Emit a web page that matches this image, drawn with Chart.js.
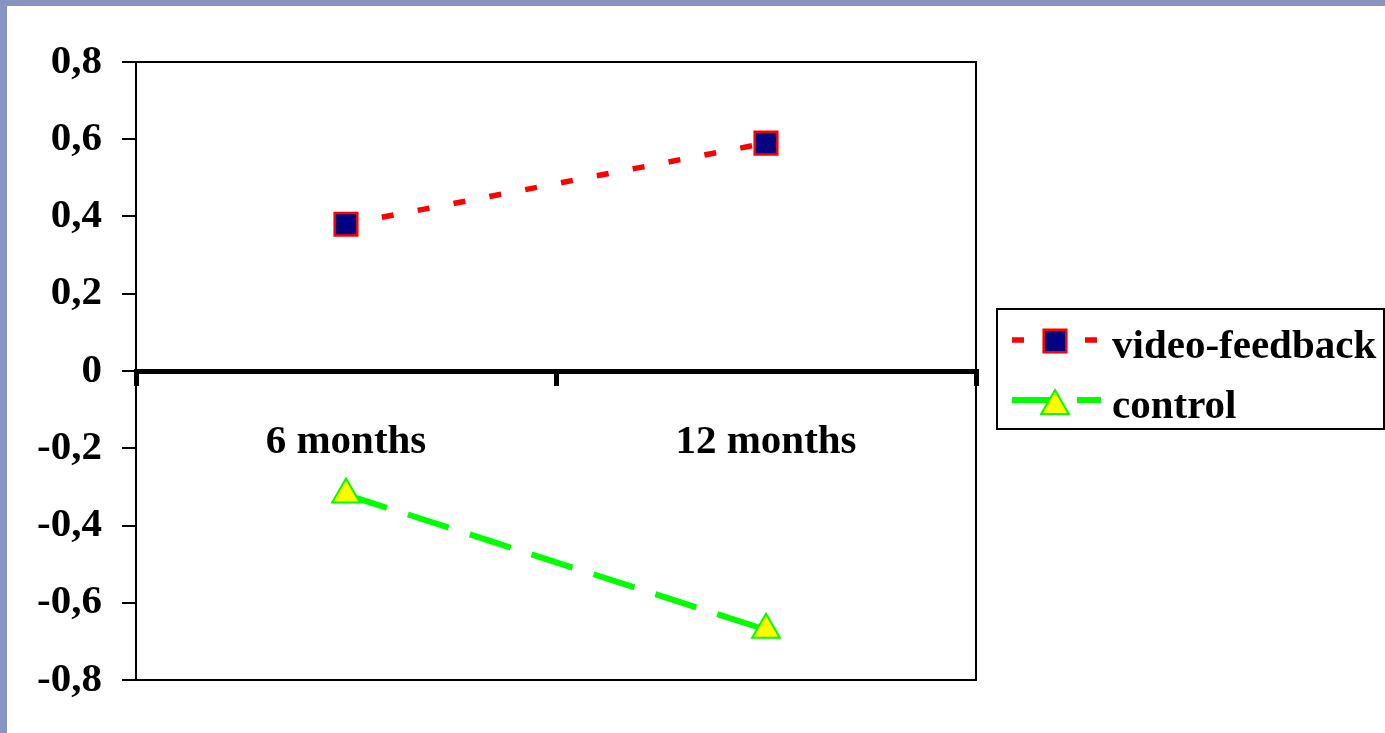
<!DOCTYPE html>
<html>
<head>
<meta charset="utf-8">
<script src="https://cdn.jsdelivr.net/npm/chart.js@4/dist/chart.umd.min.js"></script>
<style>
  html, body { margin: 0; padding: 0; }
  body { width: 1385px; height: 733px; background: #8793c1; position: relative; overflow: hidden; }
  #wrap { position: absolute; left: 7px; top: 6px; width: 1378px; height: 727px; background: #fff; }
</style>
</head>
<body>
<div id="wrap"><canvas id="chart" width="1378" height="727"></canvas></div>
<script>
/* values */
const categories = ['6 months', '12 months'];
const videoFeedback = [0.38, 0.59];
const control = [-0.32, -0.67];
const seriesNames = ['video-feedback', 'control'];
const yTicks = { min: -0.8, max: 0.8, step: 0.2 };

const FONT = { family: '"Liberation Serif", "Times New Roman", serif', size: 41, weight: 'bold' };

function fmtTick(v) {
  if (Math.abs(v) < 1e-9) return '0';
  return v.toFixed(1).replace('.', ',');
}

// thin frame round the plot area (top, right, bottom)
const plotFrame = {
  id: 'plotFrame',
  beforeDatasetsDraw(chart) {
    const { ctx, chartArea: a } = chart;
    ctx.save();
    ctx.strokeStyle = '#000';
    ctx.lineWidth = 2;
    ctx.beginPath();
    ctx.moveTo(a.left, a.top);
    ctx.lineTo(a.right, a.top);
    ctx.lineTo(a.right, a.bottom);
    ctx.lineTo(a.left, a.bottom);
    ctx.stroke();
    ctx.restore();
  }
};

// legend box on the right, line sample with marker in the middle
const sideLegend = {
  id: 'sideLegend',
  afterDraw(chart) {
    const ctx = chart.ctx;
    ctx.save();
    ctx.strokeStyle = '#000';
    ctx.lineWidth = 2;
    ctx.strokeRect(990, 303, 387, 120);
    const rows = [{ line: 334, mark: 335, text: 352 }, { line: 394, mark: 400, text: 412 }];
    chart.data.datasets.forEach((ds, i) => {
      const r = rows[i];
      ctx.save();
      ctx.strokeStyle = ds.borderColor;
      ctx.lineWidth = ds.borderWidth;
      ctx.setLineDash(ds.borderDash || []);
      ctx.beginPath();
      ctx.moveTo(1005, r.line);
      ctx.lineTo(1094, r.line);
      ctx.stroke();
      ctx.setLineDash([]);
      ctx.fillStyle = ds.pointBackgroundColor;
      ctx.strokeStyle = ds.pointBorderColor;
      ctx.lineWidth = ds.pointBorderWidth;
      Chart.helpers.drawPoint(ctx, {
        pointStyle: ds.pointStyle, radius: ds.pointRadius, rotation: 0, borderWidth: ds.pointBorderWidth
      }, 1048, r.mark);
      ctx.restore();
      ctx.fillStyle = '#000';
      ctx.font = `${FONT.weight} ${FONT.size}px ${FONT.family}`;
      ctx.textBaseline = 'alphabetic';
      ctx.textAlign = 'left';
      ctx.fillText(seriesNames[i], 1105, r.text);
    });
    ctx.restore();
  }
};

new Chart(document.getElementById('chart'), {
  type: 'line',
  data: {
    labels: categories,
    datasets: [{
      label: seriesNames[0],
      data: videoFeedback,
      borderColor: '#ff0000',
      borderWidth: 5.5,
      borderDash: [12, 24.5],
      pointStyle: 'rect',
      pointRadius: 16,
      pointHoverRadius: 16,
      pointBackgroundColor: '#000080',
      pointBorderColor: '#ff0000',
      pointBorderWidth: 2.5,
      tension: 0
    }, {
      label: seriesNames[1],
      data: control,
      borderColor: '#00ff00',
      borderWidth: 6,
      borderDash: [43, 22],
      pointStyle: 'triangle',
      pointRadius: 16,
      pointHoverRadius: 16,
      pointBackgroundColor: '#ffff00',
      pointBorderColor: '#00ff00',
      pointBorderWidth: 2,
      tension: 0
    }]
  },
  options: {
    responsive: false,
    animation: false,
    layout: { padding: { left: 0, top: 56, right: 409, bottom: 53 } },
    plugins: { legend: { display: false }, tooltip: { enabled: false } },
    scales: {
      x: {
        type: 'category',
        position: { y: 0 },
        offset: true,
        grid: { offset: true, drawOnChartArea: false, tickLength: 12, lineWidth: 5, color: '#000' },
        border: { display: true, color: '#000', width: 5 },
        ticks: { color: '#000', font: FONT, padding: 35, maxRotation: 0 }
      },
      y: {
        min: yTicks.min,
        max: yTicks.max,
        afterFit(scale) { scale.width = 129; },
        grid: { drawOnChartArea: false, tickLength: 14, lineWidth: 2, color: '#000' },
        border: { display: true, color: '#000', width: 2 },
        ticks: { stepSize: yTicks.step, color: '#000', font: FONT, padding: 20, callback: v => fmtTick(v) }
      }
    }
  },
  plugins: [plotFrame, sideLegend]
});
</script>
</body>
</html>
